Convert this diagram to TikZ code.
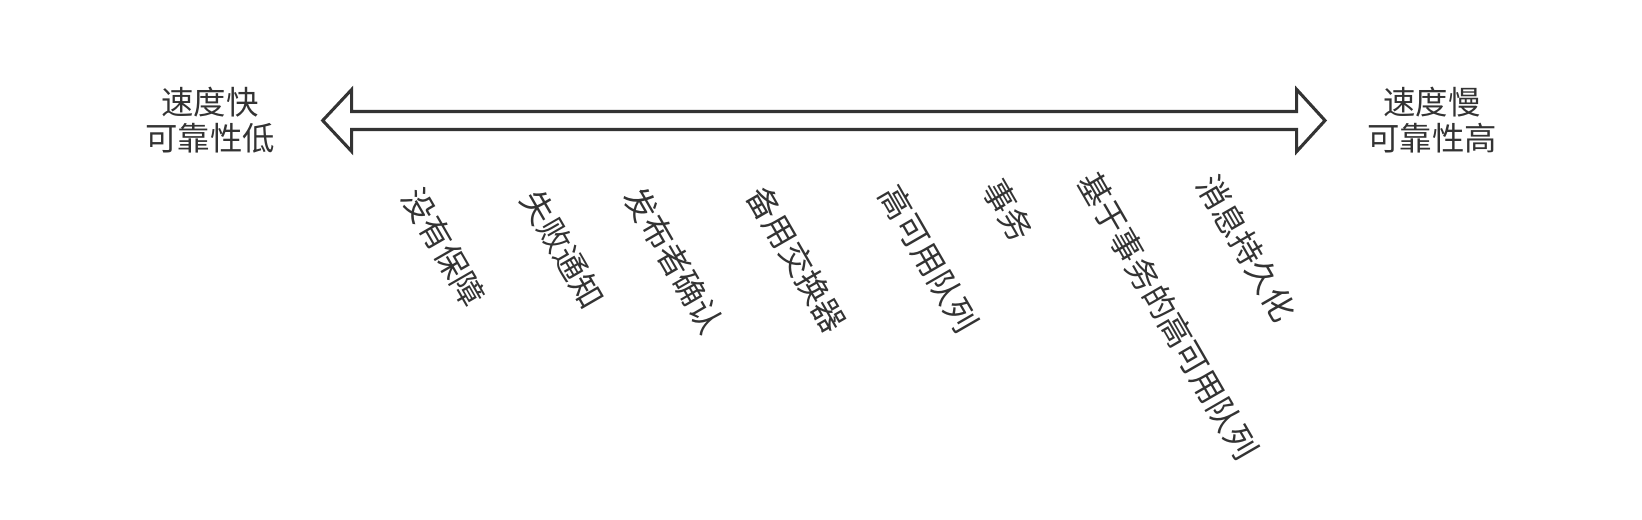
\documentclass[tikz,border=0pt]{standalone}
\usepackage{fontspec}
\setmainfont{Noto Sans CJK SC}
\usepackage{tikz}
\usetikzlibrary{calc}
\definecolor{inkgray}{HTML}{333333}

\begin{document}
\begin{tikzpicture}[x=0.75pt,y=-0.75pt,
    lab/.style={text=inkgray,font=\fontsize{24.3}{27}\selectfont,align=center,inner sep=0pt},
    tag/.style={lab,rotate=-60}]
    \useasboundingbox (0,0) rectangle (1642,520);

    % --- coordinates
    \coordinate (lt) at (322.7,120.5);
    \coordinate (rt) at (1325,120.5);
    \coordinate (lb) at (351.7,120.5);
    \coordinate (rb) at (1296.7,120.5);

    % --- double arrow (outline only)
    \draw[inkgray,line width=2.3pt,line join=miter]
      (lt) -- ($(lb)+(0,-31)$) -- ($(lb)+(0,-9)$) -- ($(rb)+(0,-9)$) -- ($(rb)+(0,-31)$)
      -- (rt) -- ($(rb)+(0,31)$) -- ($(rb)+(0,9)$) -- ($(lb)+(0,9)$) -- ($(lb)+(0,31)$) -- cycle;

    % --- end labels
    \node[lab] (fast) at (210,120) {速度快\\可靠性低};
    \node[lab] (slow) at (1432,120) {速度慢\\可靠性高};

    % --- mechanisms along the scale
    \foreach \i/\px/\py/\t in {1/444/247/没有保障,2/563/249/失败通知,3/674/260/发布者确认,4/797/259/备用交换器,5/929/259/高可用队列,6/1008/210/事务,7/1168/316/基于事务的高可用队列,8/1247/248/消息持久化}{\node[tag] (t\i) at (\px,\py) {\t};}
\end{tikzpicture}
\end{document}
